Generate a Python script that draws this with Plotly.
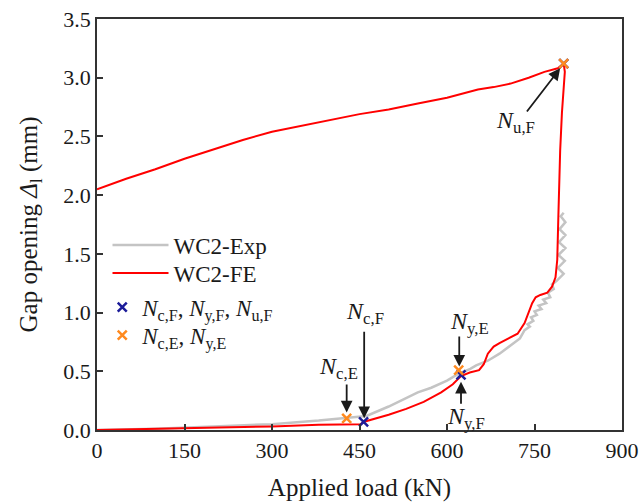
import plotly.graph_objects as go

# FE curve (loading along bottom, rise to peak, unloading along top)
fe_load = [0, 100, 200, 300, 380, 440, 452, 458, 480, 500, 530, 560, 590, 610, 624, 639,
           655, 663, 670, 680, 690, 705, 721, 733, 740, 746, 752, 760, 772, 780, 786, 789,
           791, 792, 794, 797, 800, 802, 800,
           790, 767, 740, 709, 680, 653, 630, 600, 550, 500, 450, 400, 350, 300, 250,
           200, 150, 100, 50, 0]
fe_gap = [0, 0.01, 0.02, 0.03, 0.045, 0.05, 0.05, 0.07, 0.10, 0.13, 0.18, 0.24, 0.32, 0.39,
          0.46, 0.49, 0.51, 0.56, 0.65, 0.71, 0.74, 0.78, 0.82, 0.91, 1.00, 1.08, 1.13, 1.15,
          1.17, 1.22, 1.30, 1.45, 1.84, 2.12, 2.38, 2.70, 2.95, 3.05, 3.12,
          3.08, 3.05, 3.00, 2.95, 2.92, 2.90, 2.87, 2.83, 2.78, 2.73, 2.69, 2.64, 2.59, 2.54,
          2.47, 2.39, 2.31, 2.22, 2.14, 2.05]

# Experimental curve
exp_load = [0, 100, 200, 300, 380, 428, 450, 462, 500, 550, 573, 600, 620, 640, 650, 670,
            690, 710, 725, 733, 742, 738, 748, 744, 754, 750, 762, 757, 770, 765, 777, 773,
            783, 780, 788, 800, 790, 802, 791, 803, 792, 803, 793, 803, 795, 800]
exp_gap = [0, 0.01, 0.03, 0.05, 0.08, 0.10, 0.11, 0.12, 0.20, 0.32, 0.36, 0.42, 0.48, 0.52,
           0.55, 0.59, 0.65, 0.72, 0.78, 0.85, 0.88, 0.90, 0.93, 0.96, 0.98, 1.01, 1.03, 1.06,
           1.08, 1.11, 1.13, 1.17, 1.20, 1.24, 1.27, 1.33, 1.38, 1.44, 1.49, 1.55, 1.60, 1.66,
           1.71, 1.77, 1.82, 1.85]

# Characteristic points
f_pts_load = [457, 624, 800]
f_pts_gap = [0.07, 0.47, 3.12]
e_pts_load = [428, 620, 800]
e_pts_gap = [0.10, 0.51, 3.12]

# Annotation labels with arrow heads, tails and label positions
ann_labels = ["<i>N</i><sub>c,E</sub>", "<i>N</i><sub>c,F</sub>", "<i>N</i><sub>y,E</sub>",
              "<i>N</i><sub>y,F</sub>", "<i>N</i><sub>u,F</sub>"]
ann_head_x = [428, 458, 621, 624, 794]
ann_head_y = [0.15, 0.10, 0.54, 0.41, 3.08]
ann_tail_x = [428, 458, 621, 624, 735]
ann_tail_y = [0.40, 0.85, 0.81, 0.21, 2.70]
ann_text_x = [414, 460, 639, 632, 717]
ann_text_y = [0.53, 1.00, 0.91, 0.10, 2.62]

x_ticks = [0, 150, 300, 450, 600, 750, 900]
y_ticks = [0.0, 0.5, 1.0, 1.5, 2.0, 2.5, 3.0, 3.5]

FONT = "Liberation Serif, Times New Roman, Times, serif"
TXT = "#1a1a1a"
fig = go.Figure()
fig.add_trace(go.Scatter(x=exp_load, y=exp_gap, mode="lines", name="WC2-Exp",
                         line=dict(color="#c4c4c4", width=2.5), legend="legend"))
fig.add_trace(go.Scatter(x=fe_load, y=fe_gap, mode="lines", name="WC2-FE",
                         line=dict(color="#ff0000", width=2), legend="legend3"))
fig.add_trace(go.Scatter(x=f_pts_load, y=f_pts_gap, mode="markers",
                         name="<i>N</i><sub>c,F</sub>, <i>N</i><sub>y,F</sub>, <i>N</i><sub>u,F</sub>",
                         marker=dict(symbol="x-thin", size=9, line=dict(width=2.5, color="#1c1c99"),
                                     color="#1c1c99"), legend="legend2"))
fig.add_trace(go.Scatter(x=e_pts_load, y=e_pts_gap, mode="markers",
                         name="<i>N</i><sub>c,E</sub>, <i>N</i><sub>y,E</sub>",
                         marker=dict(symbol="x-thin", size=9, line=dict(width=2.5, color="#ff8a1f"),
                                     color="#ff8a1f"), legend="legend4"))

for i in range(len(ann_labels)):
    fig.add_annotation(x=ann_head_x[i], y=ann_head_y[i], ax=ann_tail_x[i], ay=ann_tail_y[i],
                       xref="x", yref="y", axref="x", ayref="y", text="", showarrow=True,
                       arrowhead=2, arrowsize=1.3, arrowwidth=1.8, arrowcolor=TXT)
    fig.add_annotation(x=ann_text_x[i], y=ann_text_y[i], xref="x", yref="y", text=ann_labels[i],
                       showarrow=False, font=dict(family=FONT, size=24, color=TXT))

axis_common = dict(showline=True, linecolor="#333333", linewidth=1.5, mirror=True,
                   ticks="inside", ticklen=6, tickwidth=1.5, tickcolor="#333333",
                   showgrid=False, zeroline=False, automargin=False,
                   ticklabeloverflow="allow",
                   tickfont=dict(family=FONT, size=22, color=TXT))
fig.update_xaxes(range=[0, 900], tickvals=x_ticks,
                 title=dict(text="Applied load (kN)", font=dict(family=FONT, size=25, color=TXT),
                            standoff=17),
                 **axis_common)
fig.update_yaxes(range=[0, 3.5], tickvals=y_ticks, tickformat=".1f",
                 title=dict(text="Gap opening <i>Δ</i><sub>l</sub> (mm)",
                            font=dict(family=FONT, size=25, color=TXT), standoff=19),
                 **axis_common)


def leg(yc, itemwidth, x):
    return dict(x=x, y=yc, xanchor="left", yanchor="middle", bgcolor="rgba(0,0,0,0)",
                font=dict(family=FONT, size=23, color=TXT), itemwidth=itemwidth,
                tracegroupgap=0)


fig.update_layout(
    width=639, height=502,
    margin=dict(l=97, r=17, t=19, b=72),
    plot_bgcolor="white", paper_bgcolor="white",
    font=dict(family=FONT, color=TXT),
    showlegend=True,
    legend=leg(0.450, 56, 0.02),
    legend3=leg(0.382, 56, 0.02),
    legend2=leg(0.299, 30, 0.01),
    legend4=leg(0.231, 30, 0.01),
)
fig.write_html("out.html", config={"displayModeBar": False},
               post_script="document.body.style.margin='0';")
